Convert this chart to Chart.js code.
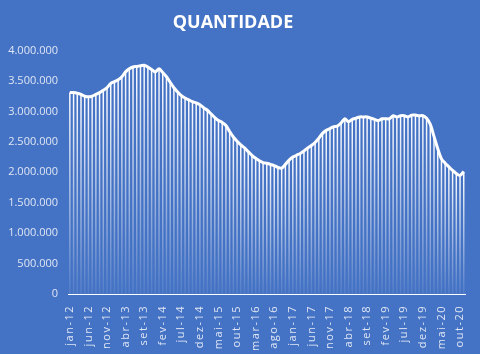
<!DOCTYPE html>
<html>
<head>
<meta charset="utf-8">
<script src="https://cdn.jsdelivr.net/npm/chart.js@4/dist/chart.umd.min.js"></script>
<style>
  body { margin: 0; background: #4472c4; }
  #wrap { width: 480px; height: 354px; }
</style>
</head>
<body>
<div id="wrap"><canvas id="qtd-chart" width="480" height="354"></canvas></div>
<script>
const meses = ['jan', 'fev', 'mar', 'abr', 'mai', 'jun', 'jul', 'ago', 'set', 'out', 'nov', 'dez'];

// jan-12 .. nov-20
const monthLabels = [];
for (let ano = 12; ano <= 20; ano++) {
    for (let m = 0; m < 12; m++) {
        if (ano === 20 && m > 10) break;
        monthLabels.push(meses[m] + '-' + ano);
    }
}

const quantidade = [
    3310000, 3310000, 3300000, 3280000, 3250000, 3240000, 3250000, 3280000, 3310000, 3350000,
    3390000, 3460000, 3490000, 3520000, 3570000, 3650000, 3700000, 3730000, 3740000, 3750000,
    3760000, 3730000, 3690000, 3650000, 3700000, 3640000, 3570000, 3480000, 3390000, 3320000,
    3260000, 3220000, 3190000, 3160000, 3140000, 3110000, 3060000, 3020000, 2960000, 2900000,
    2850000, 2820000, 2770000, 2670000, 2580000, 2510000, 2450000, 2400000, 2340000, 2280000,
    2230000, 2190000, 2160000, 2150000, 2130000, 2110000, 2080000, 2070000, 2130000, 2200000,
    2250000, 2280000, 2310000, 2350000, 2400000, 2440000, 2490000, 2560000, 2640000, 2690000,
    2720000, 2750000, 2760000, 2810000, 2880000, 2830000, 2870000, 2890000, 2910000, 2910000,
    2910000, 2890000, 2870000, 2850000, 2880000, 2880000, 2880000, 2930000, 2910000, 2930000,
    2930000, 2910000, 2940000, 2940000, 2930000, 2930000, 2890000, 2790000, 2590000, 2390000,
    2220000, 2150000, 2090000, 2030000, 1980000, 1950000, 2010000
];

const yTicks = [0, 500000, 1000000, 1500000, 2000000, 2500000, 3000000, 3500000, 4000000];

function formatBR(v) {
    return String(v).replace(/\B(?=(\d{3})+(?!\d))/g, '.');
}

// each column fades from white at its top to transparent at the axis
function barFill(ctx) {
    const chart = ctx.chart;
    const area = chart.chartArea;
    if (!area || ctx.raw == null) return 'rgba(255,255,255,0.8)';
    const top = chart.scales.y.getPixelForValue(ctx.raw);
    const g = chart.ctx.createLinearGradient(0, top, 0, area.bottom);
    g.addColorStop(0, 'rgba(255,255,255,1)');
    g.addColorStop(0.45, 'rgba(255,255,255,0.6)');
    g.addColorStop(1, 'rgba(255,255,255,0.08)');
    return g;
}

// wider letter spacing on the month labels
const spacedLabels = {
    id: 'spacedLabels',
    beforeDraw(chart) {
        const sx = chart.scales.x;
        if (sx._spaced) return;
        const orig = sx.drawLabels.bind(sx);
        sx.drawLabels = function (area) {
            const c = chart.ctx;
            c.save();
            c.letterSpacing = '1.5px';
            orig(area);
            c.restore();
        };
        sx._spaced = true;
    }
};

const tickColor = '#dfe6f4';

new Chart(document.getElementById('qtd-chart'), {
    type: 'bar',
    data: {
        labels: monthLabels,
        datasets: [{
            type: 'line',
            data: quantidade,
            borderColor: '#ffffff',
            borderWidth: 3,
            pointRadius: 0,
            tension: 0.3,
            fill: false,
            order: 0
        }, {
            type: 'bar',
            data: quantidade,
            backgroundColor: barFill,
            barPercentage: 0.4,
            categoryPercentage: 1,
            order: 1
        }]
    },
    options: {
        responsive: false,
        animation: false,
        layout: { padding: { left: 0, right: 14, top: 0, bottom: 0 } },
        plugins: {
            legend: { display: false },
            tooltip: { enabled: false },
            title: {
                display: true,
                text: 'QUANTIDADE',
                color: '#ffffff',
                font: { family: 'Open Sans', size: 18, weight: 'bold' },
                padding: { top: 12, bottom: 17 }
            }
        },
        scales: {
            x: {
                grid: { display: false },
                border: { display: true, color: '#ffffff', width: 1 },
                ticks: {
                    autoSkip: false,
                    minRotation: 90,
                    maxRotation: 90,
                    padding: 3,
                    color: tickColor,
                    font: { family: 'Open Sans', size: 11 },
                    callback: (v, i) => (i % 5 === 0 ? monthLabels[i] : '')
                },
                afterFit: s => { s.height = 60; }
            },
            y: {
                min: 0,
                max: 4000000,
                afterBuildTicks: s => { s.ticks = yTicks.map(v => ({ value: v })); },
                grid: { display: false, drawTicks: false },
                border: { display: false },
                ticks: {
                    padding: 10,
                    color: tickColor,
                    font: { family: 'Open Sans', size: 11 },
                    callback: v => formatBR(v)
                },
                afterFit: s => { s.width = 68; }
            }
        }
    },
    plugins: [spacedLabels]
});
</script>
</body>
</html>
